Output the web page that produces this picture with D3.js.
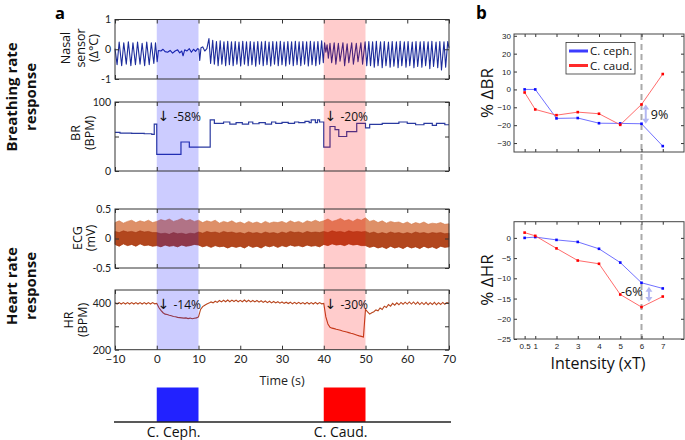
<!DOCTYPE html>
<html><head><meta charset="utf-8">
<script src="https://cdn.jsdelivr.net/npm/d3@7"></script>
<style>body{margin:0;background:#fff}svg{display:block}</style>
</head><body>
<svg id="c" width="685" height="440"></svg>
<script>
// ---------------- DATA ----------------
const xTicks = [-10, 0, 10, 20, 30, 40, 50, 60, 70];
const stimCeph = [0, 10];
const stimCaud = [40, 50];
const stimLabels = ["C. Ceph.", "C. Caud."];

// Nasal sensor trace (vertices)
const nasalTime = [
 -10,-9.5,-9.0,-8.4,-7.9,-7.3,-6.8,-6.2,-5.7,-5.1,-4.6,-4.0,-3.5,-2.9,-2.4,-1.8,-1.3,-0.7,-0.3,
 0.1,0.4,1.0,1.5,2.0,2.6,3.2,3.8,4.4,5.0,5.5,6.0,6.3,6.7,7.2,7.8,8.3,8.8,9.3,9.8,10.1,10.3,10.6,11.0,11.5,12.0,
 12.5,12.9,13.4,13.8,14.3,14.7,15.2,15.6,16.1,16.5,17.0,17.4,17.9,18.3,18.8,19.2,19.7,20.1,20.6,21.0,21.5,21.9,
 22.4,22.8,23.3,23.7,24.2,24.6,25.1,25.5,26.0,26.4,26.9,27.3,27.8,28.2,28.7,29.1,29.6,30.0,30.5,30.9,31.4,31.8,
 32.3,32.7,33.2,33.6,34.1,34.5,35.0,35.4,35.9,36.3,36.8,37.2,37.7,38.1,38.6,39.0,39.5,39.9,
 40.2,40.5,40.8,41.1,41.5,41.9,42.5,42.9,43.5,43.9,44.6,45.0,45.6,46.0,46.7,47.1,47.8,48.2,48.9,49.3,49.9,50.3,
 50.8,51.2,51.7,52.1,52.6,53.0,53.6,54.0,54.5,54.9,55.5,55.9,56.4,56.8,57.4,57.8,58.3,58.7,59.3,59.7,
 60.2,60.6,61.2,61.6,62.1,62.5,63.1,63.5,64.0,64.4,65.0,65.4,65.9,66.3,66.9,67.3,67.8,68.2,68.8,69.2,69.7,70.0
];
const nasalTemp = [
 0.02,-0.52,0.24,-0.55,0.22,-0.50,0.25,-0.55,0.22,-0.52,0.24,-0.50,0.20,-0.55,0.24,-0.52,0.22,-0.48,0.22,
 -0.42,-0.04,-0.06,0.0,-0.08,-0.10,-0.04,-0.13,-0.06,-0.02,-0.12,-0.06,-0.22,-0.02,-0.06,0.02,-0.10,0.0,-0.07,0.02,0.0,-0.38,0.05,0.08,-0.06,0.02,
 0.36,-0.48,0.30,-0.50,0.26,-0.55,0.28,-0.50,0.25,-0.55,0.27,-0.52,0.25,-0.55,0.26,-0.50,0.24,-0.56,0.27,-0.50,0.25,-0.55,
 0.26,-0.52,0.24,-0.57,0.26,-0.50,0.25,-0.55,0.27,-0.52,0.24,-0.56,0.26,-0.50,0.25,-0.55,0.27,-0.52,0.24,-0.56,0.26,-0.50,
 0.25,-0.55,0.27,-0.52,0.25,-0.55,0.26,-0.50,0.25,-0.56,0.27,-0.52,0.25,-0.55,0.26,-0.50,0.28,-0.45,
 0.22,-0.10,0.15,-0.30,0.20,-0.45,0.22,-0.50,0.20,-0.40,0.22,-0.55,0.18,-0.45,0.22,-0.50,0.20,-0.42,0.22,-0.50,0.25,-0.55,
 0.26,-0.55,0.25,-0.60,0.27,-0.55,0.25,-0.62,0.26,-0.55,0.24,-0.60,0.26,-0.57,0.25,-0.62,0.27,-0.55,0.25,-0.60,
 0.26,-0.55,0.24,-0.62,0.26,-0.58,0.25,-0.60,0.26,-0.55,0.25,-0.65,0.27,-0.58,0.24,-0.62,0.26,-0.70,0.25,-0.60,0.26,0.05
];

// Breathing rate (step changes)
const brTime = [-10,-8.8,-6,-3,-1.2,-0.6,0,5.8,7.8,12.8,13.8,16,17.5,19,20.5,22,23,24.5,26,27.5,28.5,30,31.5,33,34,35.5,36.5,37,38,38.5,39,40,41.5,42.7,43.6,45.5,47.9,50,51,54,58,60,62,64,66,67,69,70];
const brBPM  = [56,55,54.5,54,53,68,24,42,34.5,74,69,71,68,70,68,71,68.5,70,68,71,69,70.5,69,71,70,72,70,74,70,74,71,34.5,64.5,60,50,57,69,62.6,67.5,69,71,69,67,69,66,69,67,67];

// ECG envelope, 1 s bins from -10 to 70
const ecgHigh = [0.27,0.30,0.26,0.29,0.31,0.27,0.30,0.28,0.31,0.27,
 0.29,0.32,0.30,0.33,0.29,0.31,0.34,0.30,0.32,0.29,
 0.31,0.27,0.30,0.28,0.31,0.26,0.29,0.27,0.30,0.26,
 0.28,0.25,0.29,0.26,0.28,0.25,0.29,0.26,0.28,0.27,
 0.29,0.26,0.30,0.27,0.29,0.26,0.30,0.28,0.31,0.28,
 0.30,0.33,0.29,0.31,0.34,0.30,0.32,0.29,0.33,0.31,
 0.35,0.29,0.31,0.27,0.30,0.26,0.29,0.27,0.28,0.25,
 0.28,0.24,0.27,0.25,0.28,0.24,0.26,0.25,0.27,0.24,0.25];
const ecgMid = [0.12,0.10,0.13,0.11,0.12,0.10,0.13,0.11,0.12,0.10,
 0.10,0.08,0.09,0.07,0.10,0.08,0.09,0.07,0.09,0.08,
 0.11,0.09,0.12,0.10,0.11,0.09,0.12,0.10,0.11,0.09,
 0.10,0.08,0.11,0.09,0.10,0.08,0.11,0.09,0.10,0.08,
 0.11,0.09,0.12,0.10,0.11,0.09,0.12,0.10,0.11,0.10,
 0.12,0.10,0.13,0.11,0.12,0.10,0.13,0.11,0.12,0.11,
 0.12,0.09,0.11,0.08,0.10,0.08,0.11,0.09,0.10,0.08,
 0.10,0.08,0.11,0.09,0.10,0.08,0.10,0.09,0.10,0.08,0.09];
const ecgLow = [-0.10,-0.13,-0.09,-0.12,-0.10,-0.13,-0.09,-0.12,-0.11,-0.13,
 -0.12,-0.14,-0.11,-0.13,-0.12,-0.14,-0.11,-0.13,-0.12,-0.10,
 -0.11,-0.14,-0.12,-0.15,-0.12,-0.14,-0.13,-0.16,-0.13,-0.15,
 -0.13,-0.16,-0.12,-0.15,-0.13,-0.16,-0.12,-0.14,-0.12,-0.15,
 -0.12,-0.14,-0.11,-0.13,-0.12,-0.14,-0.11,-0.13,-0.12,-0.14,
 -0.10,-0.12,-0.09,-0.11,-0.10,-0.12,-0.09,-0.11,-0.10,-0.12,
 -0.12,-0.15,-0.13,-0.16,-0.14,-0.17,-0.13,-0.16,-0.14,-0.17,
 -0.13,-0.16,-0.14,-0.17,-0.13,-0.16,-0.14,-0.17,-0.13,-0.15,-0.14];

// Heart rate, 0.5 s samples from -10 to 70
const hrBPM = [
 401,395,401,395,401,395,401,395,401,395,401,395,401,395,401,395,401,395,401,396,
 398,380,368,358,352,350,347,345,342,341,338,337,336,335,336,333,335,332,334,336,
 340,372,384,390,395,399,404,400,407,402,410,404,411,405,412,405,412,406,412,405,
 411,405,412,405,411,404,410,404,410,403,409,402,408,401,407,400,406,400,405,399,
 404,398,403,397,403,396,402,396,402,396,401,395,402,395,401,395,402,395,401,396,
 398,340,310,296,292,290,287,285,283,280,278,276,273,270,268,265,262,259,257,254,
 372,362,352,358,362,370,366,378,372,386,380,393,386,398,390,400,392,402,394,403,
 395,404,395,404,394,403,393,402,393,402,392,401,393,402,392,401,393,402,394,401,
 398];

const annotBR = ["-58%", "-20%"];
const annotHR = ["-14%", "-30%"];

// Panel b
const intensity = [0.5, 1, 2, 3, 4, 5, 6, 7];
const intensityTicks = ["0.5", "1", "2", "3", "4", "5", "6", "7"];
const brCeph = [0, 0, -16.2, -16, -18.9, -19, -19.2, -31.7];
const brCaud = [-1.7, -11.2, -14.4, -12.7, -13.6, -19.8, -8.4, 8.6];
const hrCeph = [0, 0.2, -0.5, -1, -2.7, -6.1, -11.1, -12.5];
const hrCaud = [1.3, 0.5, -2.6, -5.6, -6.4, -14, -17.1, -14.5];
const brTicks = [-30, -20, -10, 0, 10, 20, 30];
const hrTicks = [-25, -20, -15, -10, -5, 0];
const seriesNames = ["C. ceph.", "C. caud."];
const diffLabels = ["9%", "-6%"];

// ---------------- DRAW ----------------
const svg = d3.select("#c");
const SANS = "'Open Sans','DejaVu Sans',sans-serif";
const TICKF = "'Lato','Open Sans',sans-serif";
const L = 115, R = 449;
const x = d3.scaleLinear().domain([-10, 70]).range([L, R]);

const plots = {
  nasal: d3.scaleLinear().domain([-1, 1]).range([79, 19.5]),
  br:    d3.scaleLinear().domain([0, 100]).range([171, 102]),
  ecg:   d3.scaleLinear().domain([-0.5, 0.5]).range([268, 209]),
  hr:    d3.scaleLinear().domain([200, 455]).range([349.7, 290])
};

// data layers
const gData = svg.append("g");
const yN = plots.nasal;
gData.append("path")
  .attr("d", d3.line().x((d, i) => x(nasalTime[i])).y(d => yN(d))(nasalTemp))
  .attr("fill", "none").attr("stroke", "#1c2c9c").attr("stroke-width", 1.1).attr("stroke-linejoin", "round");

const yB = plots.br;
gData.append("path")
  .attr("d", d3.line().curve(d3.curveStepAfter).x((d, i) => x(brTime[i])).y(d => yB(d))(brBPM))
  .attr("fill", "none").attr("stroke", "#2a3aa0").attr("stroke-width", 1.2);

const yE = plots.ecg;
const ecgTime = d3.range(-10, 70.5, 1);
gData.append("path")
  .attr("d", d3.area().x((d, i) => x(ecgTime[i])).y0((d, i) => yE(ecgLow[i])).y1(d => yE(d))(ecgHigh))
  .attr("fill", "#de9068").attr("stroke", "#d47a4c").attr("stroke-width", 0.6);
gData.append("path")
  .attr("d", d3.area().x((d, i) => x(ecgTime[i])).y0((d, i) => yE(ecgLow[i])).y1(d => yE(d))(ecgMid))
  .attr("fill", "#b2471e").attr("stroke", "#a23812").attr("stroke-width", 0.6);

const yH = plots.hr;
const hrTime = d3.range(-10, 70.25, 0.5);
gData.append("path")
  .attr("d", d3.line().x((d, i) => x(hrTime[i])).y(d => yH(d))(hrBPM))
  .attr("fill", "none").attr("stroke", "#b8461e").attr("stroke-width", 1.1);

// stimulation shading (over data)
[[stimCeph, "rgba(0,0,255,0.2)"], [stimCaud, "rgba(255,0,0,0.2)"]].forEach(([s, c]) => {
  svg.append("rect").attr("x", x(s[0])).attr("width", x(s[1]) - x(s[0]))
    .attr("y", 19.5).attr("height", 349.7 - 19.5).attr("fill", c);
});

// frames and axes
function styleAxis(g, size) {
  g.select(".domain").remove();
  g.selectAll(".tick line").attr("stroke", "#333");
  g.selectAll(".tick text").attr("fill", "#222").style("font-family", TICKF).style("font-size", size + "px");
}
function frame(y, ticks, labels, showX) {
  const [b, t] = y.range();
  svg.append("rect").attr("x", L).attr("y", t).attr("width", R - L).attr("height", b - t)
    .attr("fill", "none").attr("stroke", "#333").attr("stroke-width", 1);
  const fmt = d => labels.includes(d) ? String(d) : "";
  svg.append("g").attr("transform", `translate(${L},0)`)
    .call(d3.axisLeft(y).tickValues(ticks).tickSize(-4).tickPadding(4).tickFormat(fmt)).call(g => styleAxis(g, 10.5));
  svg.append("g").attr("transform", `translate(${R},0)`)
    .call(d3.axisRight(y).tickValues(ticks).tickSize(-4).tickFormat("")).call(g => styleAxis(g, 10));
  svg.append("g").attr("transform", `translate(0,${t})`)
    .call(d3.axisTop(x).tickValues(xTicks).tickSize(-4).tickFormat("")).call(g => styleAxis(g, 10));
  svg.append("g").attr("transform", `translate(0,${b})`)
    .call(d3.axisBottom(x).tickValues(xTicks).tickSize(-4).tickPadding(5).tickFormat(showX ? d3.format("d") : ""))
    .call(g => styleAxis(g, 11.5));
}
frame(plots.nasal, [-1, 0, 1], [-1, 0, 1], false);
frame(plots.br, [0, 50, 100], [0, 100], false);
frame(plots.ecg, [-0.5, 0, 0.5], [-0.5, 0, 0.5], false);
frame(plots.hr, [200, 300, 400], [200, 400], true);

svg.append("text").attr("x", (L + R) / 2).attr("y", 385).attr("text-anchor", "middle")
  .style("font-family", SANS).style("font-size", "12.5px").attr("fill", "#222").text("Time (s)");

// rotated y labels
function vlabel(lines, cy, xs, size, weight) {
  lines.forEach((t, i) => {
    svg.append("text").attr("transform", `translate(${xs[i]},${cy}) rotate(-90)`)
      .attr("text-anchor", "middle").style("font-family", SANS).style("font-size", size + "px")
      .style("font-weight", weight || "normal").attr("fill", "#111").text(t);
  });
}
vlabel(["Nasal", "sensor", "(Δ°C)"], 48, [70, 85, 98], 12.5);
vlabel(["BR", "(BPM)"], 133, [80, 94], 12.5);
vlabel(["ECG", "(mV)"], 238, [82, 95], 12.5);
vlabel(["HR", "(BPM)"], 320, [73, 87], 12.5);
vlabel(["Breathing rate", "response"], 97, [17, 36], 15, "bold");
vlabel(["Heart rate", "response"], 286, [17, 36], 15, "bold");

svg.append("text").attr("x", 55).attr("y", 18.5).style("font-family", SANS).style("font-size", "16.5px")
  .style("font-weight", "bold").text("a");
svg.append("text").attr("x", 476).attr("y", 19).style("font-family", SANS).style("font-size", "17px")
  .style("font-weight", "bold").text("b");

// annotations
function annot(t0, yb, label) {
  const tx = svg.append("text").attr("x", x(t0) + 1).attr("y", yb).style("font-family", SANS)
    .style("font-size", "12px").attr("fill", "#111");
  tx.append("tspan").style("font-family", "'DejaVu Sans',sans-serif").style("font-size", "14px").text("↓");
  tx.append("tspan").attr("dx", 4).text(label);
}
annot(stimCeph[0], 121, annotBR[0]);
annot(stimCaud[0], 121, annotBR[1]);
annot(stimCeph[0], 309, annotHR[0]);
annot(stimCaud[0], 309, annotHR[1]);

// stimulus timeline
[[stimCeph, "#2222ff"], [stimCaud, "#ff0000"]].forEach(([s, c], i) => {
  svg.append("rect").attr("x", x(s[0])).attr("width", x(s[1]) - x(s[0]))
    .attr("y", 387.5).attr("height", 422 - 387.5).attr("fill", c);
  svg.append("text").attr("x", x((s[0] + s[1]) / 2) - 4).attr("y", 437).attr("text-anchor", "middle")
    .style("font-family", SANS).style("font-size", "14px").attr("fill", "#111").text(stimLabels[i]);
});
svg.append("line").attr("x1", L - 1).attr("x2", R + 2).attr("y1", 422).attr("y2", 422)
  .attr("stroke", "#222").attr("stroke-width", 1.5);

// ---------------- PANEL b ----------------
const bL = 514, bR = 684;
const bx = d3.scaleLinear().domain([0, 8]).range([bL, bR]);
const byBR = d3.scaleLinear().domain([-35, 31]).range([152, 34]);
const byHR = d3.scaleLinear().domain([-25, 4]).range([339, 221.7]);

// dashed reference at 6xT
svg.append("line").attr("x1", bx(6)).attr("x2", bx(6)).attr("y1", 34).attr("y2", 339)
  .attr("stroke", "#aaa").attr("stroke-width", 2).attr("stroke-dasharray", "6,4");

function bPanel(y, ticks, ceph, caud, showX) {
  const [b, t] = y.range();
  const fmt = d3.format("d");
  svg.append("g").attr("transform", `translate(${bL},0)`)
    .call(d3.axisLeft(y).tickValues(ticks).tickSize(-3).tickPadding(3).tickFormat(fmt))
    .call(g => { styleAxis(g, 8); g.selectAll("text").style("font-family", "'Liberation Sans',Arial,sans-serif"); });
  svg.append("g").attr("transform", `translate(${bR},0)`)
    .call(d3.axisRight(y).tickValues(ticks).tickSize(-3).tickFormat("")).call(g => styleAxis(g, 8));
  svg.append("g").attr("transform", `translate(0,${t})`)
    .call(d3.axisTop(bx).tickValues(intensity).tickSize(-3).tickFormat("")).call(g => styleAxis(g, 8));
  svg.append("g").attr("transform", `translate(0,${b})`)
    .call(d3.axisBottom(bx).tickValues(intensity).tickSize(-3).tickPadding(4)
      .tickFormat((d, i) => showX ? intensityTicks[i] : ""))
    .call(g => { styleAxis(g, 8); g.selectAll("text").style("font-family", "'Liberation Sans',Arial,sans-serif"); });
  [[ceph, "#6060ff", "#0a0aff"], [caud, "#ff5a5a", "#ff0000"]].forEach(([vals, lc, mc]) => {
    svg.append("path").attr("d", d3.line().x((d, i) => bx(intensity[i])).y(d => y(d))(vals))
      .attr("fill", "none").attr("stroke", lc).attr("stroke-width", 0.9);
    svg.append("g").selectAll("rect").data(vals).join("rect")
      .attr("x", (d, i) => bx(intensity[i]) - 1.3).attr("y", d => y(d) - 1.3)
      .attr("width", 2.6).attr("height", 2.6).attr("fill", mc);
  });
  svg.append("rect").attr("x", bL).attr("y", t).attr("width", bR - bL).attr("height", b - t)
    .attr("fill", "none").attr("stroke", "#444").attr("stroke-width", 1);
}
bPanel(byBR, brTicks, brCeph, brCaud, false);
bPanel(byHR, hrTicks, hrCeph, hrCaud, true);

// y labels b
vlabel(["% ΔBR"], 93, [493], 17);
vlabel(["% ΔHR"], 280, [493], 17);
svg.append("text").attr("x", 598).attr("y", 369).attr("text-anchor", "middle")
  .style("font-family", SANS).style("font-size", "16px").attr("fill", "#111").text("Intensity (xT)");

// difference arrows
function dArrow(xv, ya, yb) {
  const c = "#b4b8f2";
  const top = Math.min(ya, yb), bot = Math.max(ya, yb);
  svg.append("line").attr("x1", xv).attr("x2", xv).attr("y1", top + 3).attr("y2", bot - 3)
    .attr("stroke", c).attr("stroke-width", 2);
  svg.append("path").attr("d", `M${xv - 3.5},${top + 5}L${xv},${top}L${xv + 3.5},${top + 5}Z`).attr("fill", c);
  svg.append("path").attr("d", `M${xv - 3.5},${bot - 5}L${xv},${bot}L${xv + 3.5},${bot - 5}Z`).attr("fill", c);
}
dArrow(bx(6.2), byBR(brCaud[6]), byBR(brCeph[6]));
dArrow(bx(6.35), byHR(hrCeph[6]) + 4, byHR(hrCaud[6]) - 5);
svg.append("text").attr("x", bx(6.2) + 5).attr("y", 119).style("font-family", SANS).style("font-size", "12.5px")
  .attr("fill", "#111").text(diffLabels[0]);
svg.append("text").attr("x", 621).attr("y", 296).style("font-family", SANS).style("font-size", "12.5px")
  .attr("fill", "#111").text(diffLabels[1]);

// legend
const lg = svg.append("g");
lg.append("rect").attr("x", 566).attr("y", 42.5).attr("width", 69).attr("height", 31.5)
  .attr("fill", "#fff").attr("stroke", "#333").attr("stroke-width", 0.8);
[["#3c3cff", 51], ["#ff2a2a", 65.5]].forEach(([c, yy], i) => {
  lg.append("line").attr("x1", 569).attr("x2", 588).attr("y1", yy).attr("y2", yy)
    .attr("stroke", c).attr("stroke-width", 3);
  lg.append("text").attr("x", 590).attr("y", yy + 4).style("font-family", SANS).style("font-size", "11.5px")
    .attr("fill", "#111").text(seriesNames[i]);
});
</script>
</body></html>
